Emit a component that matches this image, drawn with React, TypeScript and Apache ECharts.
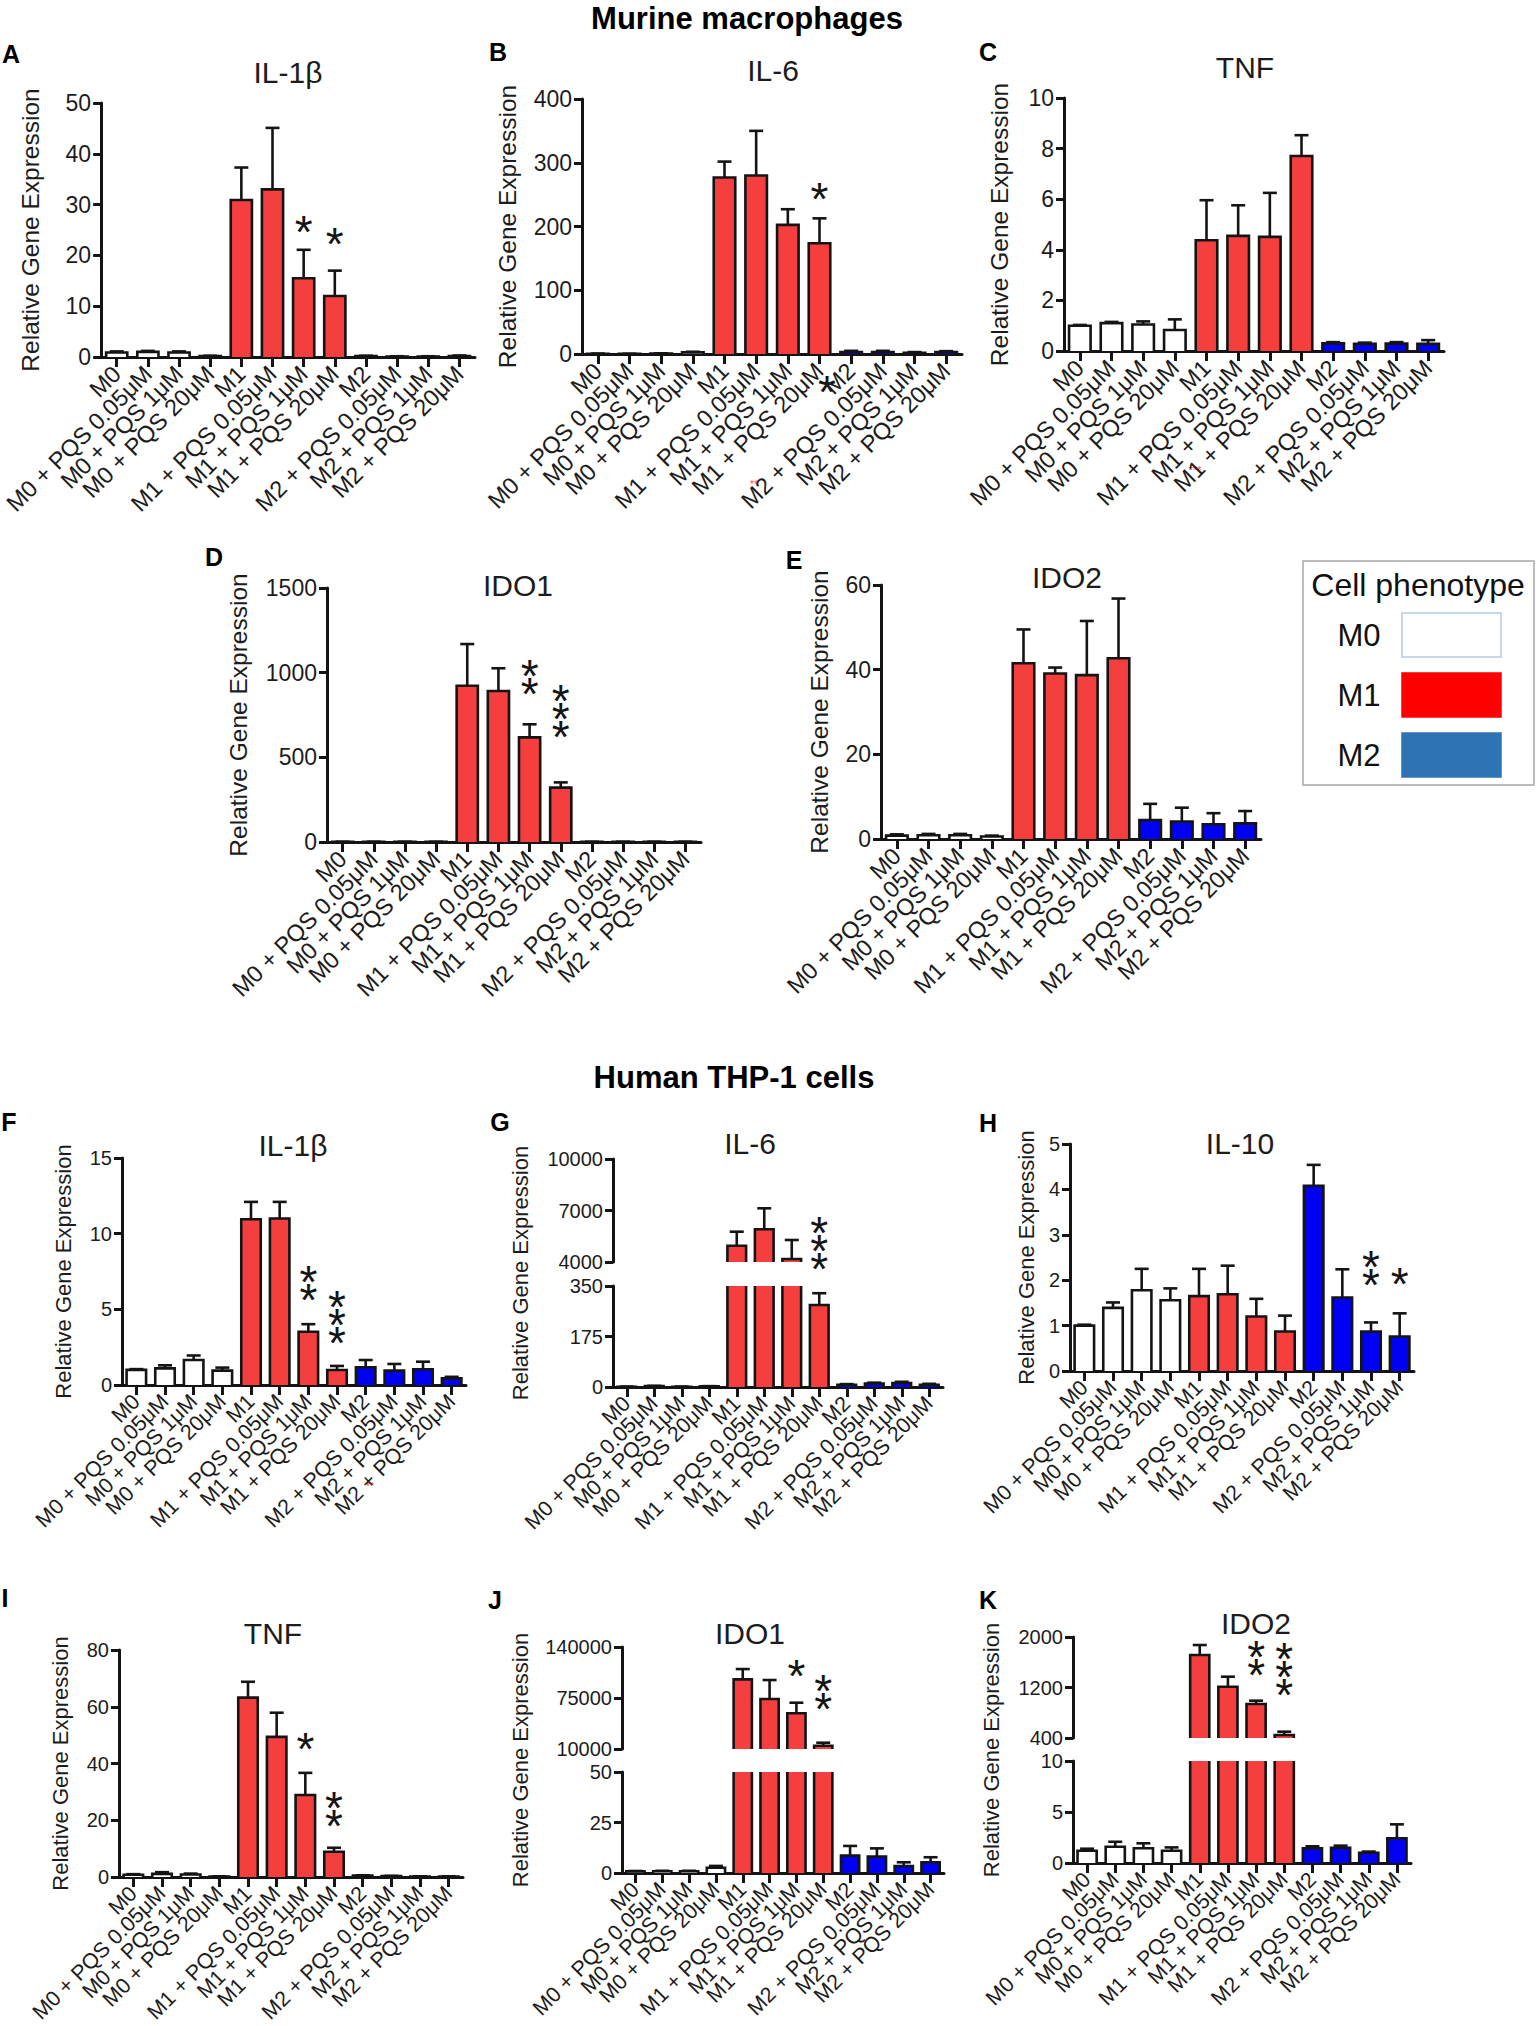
import React, { useEffect, useRef } from "react";
import * as echarts from "echarts";

// ---------------- DATA ----------------
const categories = [
  "M0", "M0 + PQS 0.05μM", "M0 + PQS 1μM", "M0 + PQS 20μM",
  "M1", "M1 + PQS 0.05μM", "M1 + PQS 1μM", "M1 + PQS 20μM",
  "M2", "M2 + PQS 0.05μM", "M2 + PQS 1μM", "M2 + PQS 20μM",
];
const phenotypeOf = ["M0", "M0", "M0", "M0", "M1", "M1", "M1", "M1", "M2", "M2", "M2", "M2"];
const legendPhenotypes = ["M0", "M1", "M2"];

// Murine macrophages
const mIL1bMean = [0.9, 1.0, 0.9, 0.2, 30.9, 33.0, 15.5, 12.0, 0.2, 0.1, 0.1, 0.2];
const mIL1bErr = [0.2, 0.2, 0.2, 0.05, 6.4, 12.1, 5.6, 5.0, 0.05, 0.05, 0.05, 0.1];
const mIL1bStars = [[6, 26.4, 1], [7, 24.0, 1]];
const mIL1bTicks = [0, 10, 20, 30, 40, 50];

const mIL6Mean = [0.5, 0.3, 0.8, 2.5, 276.8, 280, 202.5, 173.8, 3, 3, 2, 3];
const mIL6Err = [0.2, 0.1, 0.3, 1, 25, 70, 24.6, 39, 2, 2, 1, 1.5];
const mIL6Stars = [[7, 257, 1]];
const mIL6Ticks = [0, 100, 200, 300, 400];

const mTNFMean = [1.0, 1.1, 1.05, 0.83, 4.38, 4.55, 4.51, 7.71, 0.3, 0.28, 0.29, 0.28];
const mTNFErr = [0.03, 0.05, 0.12, 0.42, 1.58, 1.21, 1.74, 0.82, 0.05, 0.05, 0.06, 0.15];
const mTNFStars: number[][] = [];
const mTNFTicks = [0, 2, 4, 6, 8, 10];

const mIDO1Mean = [1, 1, 1, 1, 923, 892, 618, 321, 1, 1, 1, 1];
const mIDO1Err = [0.5, 0.5, 0.5, 0.5, 246, 134, 77, 31, 0.5, 0.5, 0.5, 0.5];
const mIDO1Stars = [[6, 927, 2], [7, 671, 3]];
const mIDO1Ticks = [0, 500, 1000, 1500];

const mIDO2Mean = [0.8, 0.9, 0.9, 0.6, 41.5, 39.1, 38.7, 42.7, 4.5, 4.1, 3.5, 3.7];
const mIDO2Err = [0.3, 0.3, 0.3, 0.2, 8, 1.4, 12.8, 14.1, 3.8, 3.3, 2.6, 2.9];
const mIDO2Stars: number[][] = [];
const mIDO2Ticks = [0, 20, 40, 60];

// Human THP-1 cells
const hIL1bMean = [1.0, 1.1, 1.65, 0.95, 10.95, 11.0, 3.52, 0.99, 1.17, 0.95, 1.04, 0.44];
const hIL1bErr = [0.05, 0.2, 0.3, 0.2, 1.15, 1.1, 0.5, 0.27, 0.48, 0.44, 0.5, 0.1];
const hIL1bStars = [[6, 6.23, 2], [7, 3.37, 3]];
const hIL1bTicks = [0, 5, 10, 15];

const hIL6Mean = [1, 3, 1, 2, 4950, 5905, 4175, 284, 8, 12, 14, 8];
const hIL6Err = [0.5, 1, 0.5, 1, 815, 1223, 1107, 41, 2, 3, 4, 3];
const hIL6Stars = [[7, 4117, 3]];
const hIL6UpperTicks = [4000, 7000, 10000];
const hIL6LowerTicks = [0, 175, 350];

const hIL10Mean = [1.0, 1.39, 1.78, 1.56, 1.65, 1.69, 1.2, 0.87, 4.08, 1.62, 0.87, 0.76];
const hIL10Err = [0.02, 0.12, 0.47, 0.26, 0.6, 0.63, 0.39, 0.35, 0.46, 0.62, 0.2, 0.51];
const hIL10Stars = [[10, 2.09, 2], [11, 2.11, 1]];
const hIL10Ticks = [0, 1, 2, 3, 4, 5];

const hTNFMean = [0.8, 1.1, 0.9, 0.2, 63.2, 49.4, 28.9, 8.9, 0.5, 0.3, 0.2, 0.2];
const hTNFErr = [0.2, 0.6, 0.3, 0.05, 5.6, 8.5, 7.8, 1.4, 0.1, 0.1, 0.05, 0.05];
const hTNFStars = [[6, 48.3, 1], [7, 21.3, 2]];
const hTNFTicks = [0, 20, 40, 60, 80];

const hIDO1Mean = [0.8, 0.9, 0.9, 2.6, 98800, 73700, 55500, 14200, 8.6, 8.1, 3.5, 5.3];
const hIDO1Err = [0.2, 0.2, 0.2, 0.9, 13100, 24200, 13500, 3800, 4.8, 4.1, 1.8, 2.5];
const hIDO1Stars = [[6, 114900, 1], [7, 72450, 2]];
const hIDO1UpperTicks = [10000, 75000, 140000];
const hIDO1LowerTicks = [0, 25, 50];

const hIDO2Mean = [1.2, 1.6, 1.44, 1.2, 1715, 1213, 939, 448, 1.44, 1.5, 1.0, 2.42];
const hIDO2Err = [0.2, 0.48, 0.49, 0.33, 158, 158, 52, 52, 0.2, 0.2, 0.12, 1.37];
const hIDO2Stars = [[6, 1541, 2], [7, 1229, 3]];
const hIDO2UpperTicks = [400, 1200, 2000];
const hIDO2LowerTicks = [0, 5, 10];

// ---------------- STYLE / LAYOUT ----------------
const FONT = "'Liberation Sans', Arial, Helvetica, sans-serif";
const INK = "#141414";
const TEXT = "#1c1c1c";
const BAR_FILL: Record<string, string> = { M0: "#ffffff", M1: "#f53f3f", M2: "#0000f2" };
const SWATCH_FILL: Record<string, string> = { M0: "#ffffff", M1: "#ff0000", M2: "#2e74b5" };
const BAR_RATIO = 0.68;
const BORDER_W = 2.6;
const CAP_HALF = 7;
const STAR_FONT = 46;
const STAR_GAP = 18;
const STAR_DY = 9;

type Seg = { top: number; height: number; ticks: number[] };
type Panel = {
  letter: string; title: string; left: number; width: number; segs: Seg[];
  mean: number[]; err: number[]; stars: number[][];
  nameX: number; letterXY: number[]; titleXY: number[];
  tickFont: number; labelFont: number; nameFont: number;
};

const murine = { tickFont: 23, labelFont: 23.5, nameFont: 24.5 };
const human = { tickFont: 20, labelFont: 21.5, nameFont: 22 };

const panels: Panel[] = [
  { letter: "A", title: "IL-1β", left: 95, width: 380, segs: [{ top: 103, height: 254, ticks: mIL1bTicks }], mean: mIL1bMean, err: mIL1bErr, stars: mIL1bStars, nameX: 30, letterXY: [11, 54], titleXY: [288, 72], ...murine },
  { letter: "B", title: "IL-6", left: 582, width: 380, segs: [{ top: 99, height: 255, ticks: mIL6Ticks }], mean: mIL6Mean, err: mIL6Err, stars: mIL6Stars, nameX: 507, letterXY: [498, 52], titleXY: [773, 70], ...murine },
  { letter: "C", title: "TNF", left: 1064, width: 380, segs: [{ top: 98, height: 253, ticks: mTNFTicks }], mean: mTNFMean, err: mTNFErr, stars: mTNFStars, nameX: 999, letterXY: [988, 52], titleXY: [1245, 67], ...murine },
  { letter: "D", title: "IDO1", left: 327, width: 374, segs: [{ top: 588, height: 254, ticks: mIDO1Ticks }], mean: mIDO1Mean, err: mIDO1Err, stars: mIDO1Stars, nameX: 238, letterXY: [214, 557], titleXY: [518, 585], ...murine },
  { letter: "E", title: "IDO2", left: 881, width: 380, segs: [{ top: 585, height: 254, ticks: mIDO2Ticks }], mean: mIDO2Mean, err: mIDO2Err, stars: mIDO2Stars, nameX: 819, letterXY: [794, 560], titleXY: [1067, 577], ...murine },
  { letter: "F", title: "IL-1β", left: 122, width: 344, segs: [{ top: 1158, height: 227, ticks: hIL1bTicks }], mean: hIL1bMean, err: hIL1bErr, stars: hIL1bStars, nameX: 63, letterXY: [9, 1122], titleXY: [293, 1145], ...human },
  { letter: "G", title: "IL-6", left: 613, width: 330, segs: [{ top: 1159, height: 103, ticks: hIL6UpperTicks }, { top: 1286, height: 101, ticks: hIL6LowerTicks }], mean: hIL6Mean, err: hIL6Err, stars: hIL6Stars, nameX: 520, letterXY: [500, 1122], titleXY: [750, 1143], ...human },
  { letter: "H", title: "IL-10", left: 1070, width: 344, segs: [{ top: 1144, height: 227, ticks: hIL10Ticks }], mean: hIL10Mean, err: hIL10Err, stars: hIL10Stars, nameX: 1026, letterXY: [988, 1123], titleXY: [1240, 1143], ...human },
  { letter: "I", title: "TNF", left: 119, width: 344, segs: [{ top: 1650, height: 227, ticks: hTNFTicks }], mean: hTNFMean, err: hTNFErr, stars: hTNFStars, nameX: 60, letterXY: [5, 1598], titleXY: [273, 1633], ...human },
  { letter: "J", title: "IDO1", left: 622, width: 322, segs: [{ top: 1647, height: 102, ticks: hIDO1UpperTicks }, { top: 1772, height: 101, ticks: hIDO1LowerTicks }], mean: hIDO1Mean, err: hIDO1Err, stars: hIDO1Stars, nameX: 520, letterXY: [495, 1600], titleXY: [750, 1633], ...human },
  { letter: "K", title: "IDO2", left: 1073, width: 338, segs: [{ top: 1637, height: 101, ticks: hIDO2UpperTicks }, { top: 1761, height: 102, ticks: hIDO2LowerTicks }], mean: hIDO2Mean, err: hIDO2Err, stars: hIDO2Stars, nameX: 991, letterXY: [988, 1600], titleXY: [1256, 1623], ...human },
];

// ---------------- SERIES BUILDERS ----------------
function barSeries(gi: number, mean: number[], yMin: number, yMax: number) {
  return {
    type: "custom", xAxisIndex: gi, yAxisIndex: gi, clip: false, z: 3,
    data: mean.map((v, i) => [i, v]),
    renderItem: (params: any, api: any) => {
      const i = api.value(0);
      const v = api.value(1);
      if (v <= yMin) return null;
      const top = Math.min(v, yMax);
      const b = api.coord([i, yMin]);
      const t = api.coord([i, top]);
      const w = api.size([1, 0])[0] * BAR_RATIO;
      const x0 = b[0] - w / 2;
      const x1 = b[0] + w / 2;
      const stroke = { stroke: INK, lineWidth: BORDER_W, fill: "none", lineJoin: "miter" };
      const children: any[] = [
        { type: "rect", shape: { x: x0, y: t[1], width: w, height: b[1] - t[1] }, style: { fill: BAR_FILL[phenotypeOf[i]] } },
      ];
      if (v <= yMax) {
        children.push({ type: "polyline", shape: { points: [[x0, b[1]], [x0, t[1]], [x1, t[1]], [x1, b[1]]] }, style: stroke });
      } else {
        children.push({ type: "line", shape: { x1: x0, y1: b[1], x2: x0, y2: t[1] }, style: stroke });
        children.push({ type: "line", shape: { x1: x1, y1: b[1], x2: x1, y2: t[1] }, style: stroke });
      }
      return { type: "group", children };
    },
  };
}

function errSeries(gi: number, mean: number[], err: number[], yMin: number, yMax: number) {
  return {
    type: "custom", xAxisIndex: gi, yAxisIndex: gi, clip: false, z: 4,
    data: mean.map((v, i) => [i, v, err[i]]),
    renderItem: (params: any, api: any) => {
      const i = api.value(0);
      const v = api.value(1);
      const hi = v + api.value(2);
      if (hi <= yMin || v >= yMax) return null;
      const from = api.coord([i, Math.max(v, yMin)]);
      const to = api.coord([i, Math.min(hi, yMax)]);
      const style = { stroke: INK, lineWidth: BORDER_W };
      const children: any[] = [
        { type: "line", shape: { x1: from[0], y1: from[1], x2: to[0], y2: to[1] }, style },
      ];
      if (hi <= yMax) {
        children.push({ type: "line", shape: { x1: to[0] - CAP_HALF, y1: to[1], x2: to[0] + CAP_HALF, y2: to[1] }, style });
      }
      return { type: "group", children };
    },
  };
}

function starSeries(gi: number, stars: number[][]) {
  return {
    type: "custom", xAxisIndex: gi, yAxisIndex: gi, clip: false, z: 5,
    data: stars,
    renderItem: (params: any, api: any) => {
      const i = api.value(0);
      const v = api.value(1);
      const n = api.value(2);
      const c = api.coord([i, v]);
      const children: any[] = [];
      for (let k = 0; k < n; k++) {
        children.push({
          type: "text", x: c[0], y: c[1] - k * STAR_GAP + STAR_DY,
          style: { text: "*", fontSize: STAR_FONT, fontFamily: FONT, fill: INK, textAlign: "center", textVerticalAlign: "middle" },
        });
      }
      return { type: "group", children };
    },
  };
}

function txt(text: string, x: number, y: number, fontSize: number, extra: any = {}, rotation = 0) {
  return {
    type: "text", x, y, rotation, silent: true,
    style: { text, fontSize, fontFamily: FONT, fill: TEXT, textAlign: "center", textVerticalAlign: "middle", ...extra },
  };
}

function buildOption() {
  const grid: any[] = [];
  const xAxis: any[] = [];
  const yAxis: any[] = [];
  const series: any[] = [];
  const elements: any[] = [];
  const axisLineStyle = { color: INK, width: 3 };

  panels.forEach((p) => {
    const segIdx: number[] = [];
    p.segs.forEach((s, si) => {
      const gi = grid.length;
      segIdx.push(gi);
      const bottom = si === p.segs.length - 1;
      const yMin = s.ticks[0];
      const yMax = s.ticks[s.ticks.length - 1];
      grid.push({ left: p.left, top: s.top, width: p.width, height: s.height });
      xAxis.push({
        type: "category", gridIndex: gi, data: categories, boundaryGap: true, show: bottom,
        axisLine: { show: bottom, onZero: false, lineStyle: axisLineStyle },
        axisTick: { show: bottom, alignWithLabel: true, length: 10, lineStyle: { color: INK, width: 3 } },
        axisLabel: { show: bottom, interval: 0, rotate: 45, margin: 13, fontSize: p.labelFont, fontFamily: FONT, color: TEXT },
        splitLine: { show: false },
      });
      yAxis.push({
        type: "value", gridIndex: gi, min: yMin, max: yMax, interval: s.ticks[1] - s.ticks[0],
        axisLine: { show: true, lineStyle: axisLineStyle },
        axisTick: { show: true, length: 8, lineStyle: { color: INK, width: 3 }, customValues: s.ticks },
        axisLabel: {
          margin: 10, fontSize: p.tickFont, fontFamily: FONT, color: TEXT, customValues: s.ticks,
          formatter: (v: number) => String(v),
        },
        splitLine: { show: false },
      });
      series.push(barSeries(gi, p.mean, yMin, yMax));
      series.push(errSeries(gi, p.mean, p.err, yMin, yMax));
    });
    if (p.stars.length) series.push(starSeries(segIdx[0], p.stars));

    const topY = p.segs[0].top;
    const last = p.segs[p.segs.length - 1];
    const botY = last.top + last.height;
    elements.push(txt(p.letter, p.letterXY[0], p.letterXY[1], 25, { fontWeight: "bold", fill: "#000" }));
    elements.push(txt(p.title, p.titleXY[0], p.titleXY[1], 30));
    elements.push(txt("Relative Gene Expression", p.nameX, (topY + botY) / 2, p.nameFont, {}, Math.PI / 2));
  });

  // Section titles
  elements.push(txt("Murine macrophages", 747, 18, 31, { fontWeight: "bold", fill: "#000" }));
  elements.push(txt("Human THP-1 cells", 734, 1077, 31, { fontWeight: "bold", fill: "#000" }));

  // Legend
  elements.push({ type: "rect", shape: { x: 1303, y: 561, width: 231, height: 224 }, style: { fill: "#fff", stroke: "#a8a8a8", lineWidth: 1.5 } });
  elements.push(txt("Cell phenotype", 1418, 585, 32, { fill: "#111" }));
  legendPhenotypes.forEach((ph, k) => {
    const cy = 635 + k * 60;
    elements.push(txt(ph, 1359, cy, 31, { fill: "#111" }));
    elements.push({
      type: "rect", shape: { x: 1402, y: cy - 22, width: 99, height: 44 },
      style: { fill: SWATCH_FILL[ph], stroke: ph === "M0" ? "#b8cbe0" : SWATCH_FILL[ph], lineWidth: 1.5 },
    });
  });

  // Stray marks present in the original figure
  elements.push(txt("*", 827, 383 + STAR_DY, STAR_FONT, { fill: INK }));
  elements.push(txt("**", 754, 484, 11, { fill: "#ff5050" }));
  elements.push(txt("***", 1195, 470, 11, { fill: "#ff5050" }));
  elements.push(txt("**", 370, 1486, 11, { fill: "#ff5050" }));

  return {
    animation: false,
    backgroundColor: "#ffffff",
    grid, xAxis, yAxis, series,
    graphic: { elements },
  };
}

export default function App() {
  const ref = useRef<HTMLDivElement>(null);
  useEffect(() => {
    document.body.style.margin = "0";
    const chart = echarts.init(ref.current as HTMLDivElement, undefined, { renderer: "svg", width: 1536, height: 2026 });
    chart.setOption(buildOption() as any);
    return () => chart.dispose();
  }, []);
  return (
    <div
      ref={ref}
      style={{ position: "absolute", left: 0, top: 0, width: 1536, height: 2026, background: "#fff" }}
    />
  );
}
